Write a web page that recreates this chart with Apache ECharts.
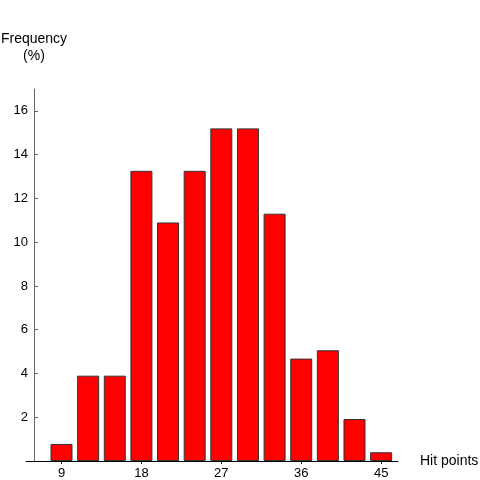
<!DOCTYPE html>
<html>
<head>
  <meta charset="utf-8" />
  <style>
    html, body { margin: 0; padding: 0; background: #fff; }
  </style>
</head>
<body>
  <div id="main" style="width: 480px; height: 480px"></div>
  <script src="https://cdn.jsdelivr.net/npm/echarts@6/dist/echarts.min.js"></script>
  <script>
    // hit point bins and their frequency (%)
    var hitPoints = [9, 12, 15, 18, 21, 24, 27, 30, 33, 36, 39, 42, 45];
    var frequency = [0.78, 3.9, 3.9, 13.26, 10.9, 13.26, 15.2, 15.2, 11.3, 4.68, 5.06, 1.92, 0.4];
    // labelled ticks
    var xTicks = [9, 18, 27, 36, 45];
    var yTicks = [2, 4, 6, 8, 10, 12, 14, 16];

    var font = "Liberation Sans, Arial, sans-serif";
    var myChart = echarts.init(document.getElementById("main"));
    var option = {
      animation: false,
      grid: { left: 26, right: 82, top: 89, bottom: 19, containLabel: false, outerBoundsMode: "none" },
      xAxis: {
        type: "value",
        min: 5,
        max: 46.9,
        name: "Hit points",
        nameLocation: "end",
        nameGap: 22,
        nameTextStyle: { color: "#000", fontSize: 14, fontFamily: font },
        axisLine: { show: true, onZero: false, lineStyle: { color: "#000", width: 1 } },
        axisTick: { show: true, length: 3, customValues: xTicks, lineStyle: { color: "#000" } },
        axisLabel: { customValues: xTicks, color: "#000", fontSize: 13, fontFamily: font, margin: 6 },
        splitLine: { show: false },
      },
      yAxis: {
        type: "value",
        min: 0,
        max: 17,
        offset: -8,
        name: "Frequency\n(%)",
        nameLocation: "end",
        nameGap: 24,
        nameTextStyle: { color: "#000", fontSize: 14, fontFamily: font, align: "center", lineHeight: 17 },
        axisLine: { show: true, lineStyle: { color: "#666", width: 1 } },
        axisTick: { show: true, inside: true, length: 4, customValues: yTicks, lineStyle: { color: "#666" } },
        axisLabel: { customValues: yTicks, color: "#000", fontSize: 13, fontFamily: font, margin: 6 },
        splitLine: { show: false },
      },
      series: [
        {
          type: "bar",
          barWidth: 22,
          data: hitPoints.map(function (h, i) {
            return [h, frequency[i]];
          }),
          itemStyle: { color: "#ff0000", borderColor: "#333", borderWidth: 1 },
        },
      ],
    };
    myChart.setOption(option);
  </script>
</body>
</html>
